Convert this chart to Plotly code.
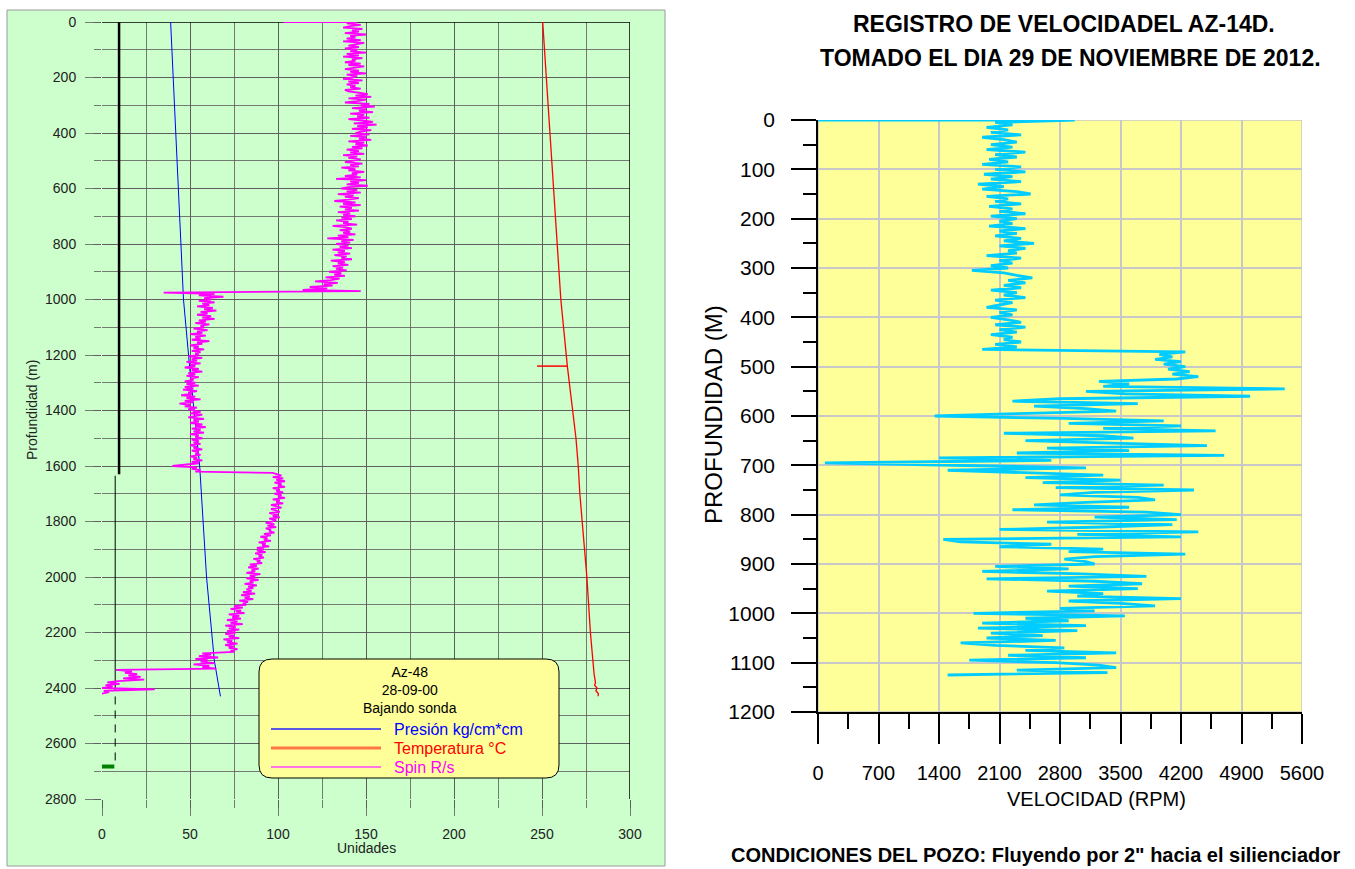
import plotly.graph_objects as go

W, H = 1355, 869

# ---------------- LEFT CHART DATA (Az-48, 28-09-00) ----------------
spin_head_val = [103]
spin_head_depth = [0]
spin_step = 5
spin_segments = [
    (0, [145, 139, 147, 141, 137, 148, 142, 146, 138, 150,
         141, 144, 139, 147, 137, 149, 143, 140, 146, 138,
         145, 141, 150, 139, 146, 137, 148, 142, 144, 138,
         147, 140, 149, 143, 138, 146, 141, 150, 139, 145,
         142, 137, 148, 140, 146, 139, 144, 141, 147, 138]),
    (250, [140, 146, 151, 144, 153, 140, 150, 145, 138, 152,
           147, 155, 142, 150, 146, 154, 141, 149, 145, 152,
           140, 148, 154, 143, 156, 145, 151, 142, 153, 147,
           144, 152, 141, 150, 146, 153, 140, 149, 144, 151]),
    (450, [142, 148, 139, 146, 141, 149, 137, 145, 140, 147,
           143, 138, 148, 141, 146, 136, 144, 140, 149, 142,
           145, 138, 147, 133, 150, 141, 146, 139, 151, 140]),
    (600, [136, 145, 139, 147, 134, 143, 138, 146, 140, 132,
           144, 137, 147, 135, 142, 138, 146, 134, 141, 137]),
    (700, [144, 136, 142, 133, 140, 137, 145, 131, 139, 142,
           135, 141, 137, 144, 134, 140, 128, 143, 136, 141]),
    (800, [133, 140, 135, 142, 131, 138, 134, 141, 132, 139,
           136, 142, 130, 138, 134, 140, 131, 137, 133, 139]),
    (900, [129, 136, 132, 138, 127, 135, 130, 121, 134, 126,
           131, 118, 128, 114, 147, 35, 64, 55, 69, 58]),
    (1000, [62, 55, 64, 57, 61, 54, 63, 58, 65, 56,
            60, 54, 62, 57, 64, 55, 59, 53, 61, 56]),
    (1100, [58, 52, 60, 54, 57, 50, 59, 53, 56, 51,
            61, 54, 57, 50, 55, 52, 58, 51, 56, 53]),
    (1200, [55, 49, 57, 51, 54, 48, 56, 50, 53, 47,
            55, 51, 57, 49, 53, 48, 55, 50, 52, 47]),
    (1300, [53, 48, 55, 47, 52, 46, 54, 49, 51, 45,
            53, 48, 56, 47, 52, 44, 50, 47, 54, 49]),
    (1400, [52, 56, 50, 57, 53, 49, 58, 52, 55, 50,
            57, 53, 59, 51, 56, 52, 58, 50, 55, 53]),
    (1500, [57, 51, 55, 52, 56, 50, 54, 52, 57, 51,
            55, 53, 56, 50, 54, 52, 57, 51, 55, 48,
            40, 54, 51, 56, 53, 97]),
    (1630, [99, 102, 97, 103, 99, 104, 98, 102, 100, 104,
            97, 101, 99, 103, 98, 102, 100, 104, 97, 101,
            99, 103, 96, 100]),
    (1750, [102, 96, 99, 101, 95, 100, 97, 101, 95, 99]),
    (1800, [97, 93, 98, 94, 99, 93, 96, 95, 98, 92]),
    (1850, [96, 90, 94, 92, 96, 89, 93, 91, 95, 88]),
    (1900, [92, 88, 93, 87, 91, 89, 92, 86, 90, 88]),
    (1950, [91, 84, 88, 83, 89, 85, 87, 82, 90, 84]),
    (2000, [87, 82, 89, 84, 86, 81, 88, 83, 86, 82]),
    (2050, [85, 80, 87, 79, 84, 81, 86, 78, 83, 80]),
    (2100, [82, 75, 80, 73, 79, 76, 81, 72, 78, 74]),
    (2150, [79, 71, 77, 73, 80, 70, 76, 72, 78, 71]),
    (2200, [76, 70, 75, 72, 78, 69, 74, 71, 77, 70,
            75, 72, 77, 73, 75]),
    (2275, [57, 62, 55, 66, 53, 60, 56, 64, 52, 61, 57, 65]),
    (2335, [8, 17, 13, 20, 15, 22, 12, 24, 9, 3,
            10, 2, 6, 0, 30, 1, 4, 0]),
]

pres_depth = [0, 500, 940, 960, 1000, 1250, 1600, 2000, 2300, 2430]
pres_val = [39.0, 42.5, 45.8, 45.9, 46.3, 49.9, 55.5, 59.4, 63.8, 67.3]

temp_depth = [0, 500, 1000, 1240, 1500, 1600, 1700, 2000, 2200, 2350, 2380, 2390, 2400, 2410, 2420, 2430]
temp_val = [250.4, 255.5, 260.7, 264.4, 269.3, 270.6, 271.5, 275.5, 277.5, 279.6, 280.4, 279.9, 281.3, 280.6, 282.0, 281.9]
temp_stub_depth = [1240, 1240]
temp_stub_val = [247.2, 264.4]

casing_upper_x = [9.7, 9.7]
casing_upper_depth = [0, 1630]
casing_lower_x = [7.5, 7.5]
casing_lower_depth = [1635, 2380]
casing_dash_x = [7.5, 7.5]
casing_dash_depth = [2380, 2680]
shoe_x = [0, 7]
shoe_depth = [2683, 2683]

left_xticks = [0, 50, 100, 150, 200, 250, 300]
left_yticks = [0, 200, 400, 600, 800, 1000, 1200, 1400, 1600, 1800, 2000, 2200, 2400, 2600, 2800]

# ---------------- RIGHT CHART DATA (AZ-14D) ----------------
vel_head_rpm = [0, 2970]
vel_head_depth = [0, 0]
vel_step = 5  # first sample at 5 m
vel_rpm = [
    2050, 2250, 1950, 2200, 2000, 2350, 1900, 2150, 2300, 2000,   # 5-50
    2250, 1950, 2400, 2050, 2300, 1980, 2200, 1900, 2350, 2050,   # 55-100
    2400, 1920, 2250, 2000, 2350, 1850, 2150, 1900, 2300, 2460,   # 105-150
    1950, 2200, 2050, 2350, 1980, 2250, 2100, 2400, 2000, 2300,   # 155-200
    2100, 2250, 1980, 2400, 2100, 2300, 2050, 2350, 2150, 2500,   # 205-250
    2100, 2400, 2200, 2300, 1950, 2350, 2100, 2250, 2000, 2200,   # 255-300
    1780, 2150, 2300, 2480, 2200, 2400, 2150, 2350, 2000, 2300,   # 305-350
    2150, 2400, 2050, 2250, 2100, 1950, 2300, 2100, 2250, 2000,   # 355-400
    2200, 2350, 2050, 2400, 2100, 2300, 2000, 2250, 2150, 2350,   # 405-450
    2050, 2300, 1900, 4250, 3950, 4100, 3900, 4200, 4000, 4250,   # 455-500
    4050, 4300, 4100, 4400, 4150, 3250, 3600, 3300, 5400, 3100,   # 505-550
    3550, 5000, 2800, 2250, 3700, 2500, 3100, 3450, 2300, 1350,   # 555-600
    2850, 4000, 2900, 4200, 3300, 4600, 2150, 3300, 3650, 2400,   # 605-650
    3400, 4500, 2650, 3600, 2300, 4700, 1400, 2700, 80, 1450,     # 655-700
    3100, 1500, 2500, 3300, 2400, 3500, 2600, 4000, 2750, 4350,   # 705-750
    3200, 2800, 3700, 3900, 3100, 2500, 3600, 2250, 3800, 4200,   # 755-800
    3200, 4150, 2650, 4100, 3300, 2100, 4400, 3000, 4200, 1450,   # 805-850
    1650, 2700, 2100, 3300, 2900, 4250, 3200, 2850, 3100, 3200,   # 855-900
    2050, 2900, 1900, 3050, 3800, 1950, 3200, 3750, 2900, 3700,   # 905-950
    2650, 3300, 3000, 4200, 2900, 3500, 3900, 2800, 3200, 1800,   # 955-1000
    3550, 2400, 2900, 1900, 3100, 1850, 3000, 2000, 2600, 1950,   # 1005-1050
    2750, 1650, 2050, 2850, 2400, 3450, 2200, 3100, 1750, 2750,   # 1055-1100
    3250, 3450, 2300, 3350, 1500,                                 # 1105-1125
]

right_xticks = [0, 700, 1400, 2100, 2800, 3500, 4200, 4900, 5600]

# ---------------- helpers ----------------
def px(x):
    return x / W


def py(y):
    return 1 - y / H


spin_depth = list(spin_head_depth)
spin_all = list(spin_head_val)
for start, vals in spin_segments:
    for i, v in enumerate(vals):
        spin_depth.append(start + i * spin_step)
        spin_all.append(v)
vel_depth = vel_head_depth + [(i + 1) * vel_step for i in range(len(vel_rpm))]
vel_all = vel_head_rpm + vel_rpm

fig = go.Figure()

# left traces
fig.add_trace(go.Scatter(x=casing_upper_x, y=casing_upper_depth, mode="lines",
                         line=dict(color="black", width=2.5), xaxis="x", yaxis="y"))
fig.add_trace(go.Scatter(x=casing_lower_x, y=casing_lower_depth, mode="lines",
                         line=dict(color="black", width=1), xaxis="x", yaxis="y"))
fig.add_trace(go.Scatter(x=casing_dash_x, y=casing_dash_depth, mode="lines",
                         line=dict(color="black", width=1, dash="8px,6px"), xaxis="x", yaxis="y"))
fig.add_trace(go.Scatter(x=shoe_x, y=shoe_depth, mode="lines",
                         line=dict(color="#008000", width=4), xaxis="x", yaxis="y"))
fig.add_trace(go.Scatter(x=pres_val, y=pres_depth, mode="lines",
                         line=dict(color="#0000FF", width=1), xaxis="x", yaxis="y"))
fig.add_trace(go.Scatter(x=temp_val, y=temp_depth, mode="lines",
                         line=dict(color="#FF0000", width=1.3), xaxis="x", yaxis="y"))
fig.add_trace(go.Scatter(x=temp_stub_val, y=temp_stub_depth, mode="lines",
                         line=dict(color="#FF0000", width=1.5), xaxis="x", yaxis="y"))
fig.add_trace(go.Scatter(x=spin_all, y=spin_depth, mode="lines",
                         line=dict(color="#FF00FF", width=1.8), xaxis="x", yaxis="y"))

# right trace
fig.add_trace(go.Scatter(x=vel_all, y=vel_depth, mode="lines",
                         line=dict(color="#00CCFF", width=2.8), xaxis="x2", yaxis="y2"))

GRID_L = "rgba(90,90,90,0.8)"
FONT = "Liberation Sans, Arial, sans-serif"

shapes = []
# left green background
shapes.append(dict(type="rect", xref="paper", yref="paper",
                   x0=px(7), x1=px(665), y0=py(866), y1=py(10),
                   fillcolor="#CCFFCC", line=dict(color="#9a9a9a", width=1), layer="below"))
# right yellow plot area
shapes.append(dict(type="rect", xref="x2", yref="y2", x0=0, x1=5600, y0=0, y1=1200,
                   fillcolor="#FFFF99", line=dict(color="#c8c8c8", width=1.5), layer="below"))
# left frame top & right (black)
shapes.append(dict(type="line", xref="x", yref="y", x0=0, x1=300, y0=0, y1=0,
                   line=dict(color="black", width=1.5), layer="between"))
shapes.append(dict(type="line", xref="x", yref="y", x0=300, x1=300, y0=0, y1=2800,
                   line=dict(color="black", width=1.5), layer="between"))

# legend box (rounded)
bx0, bx1, by0, by1, r = 259, 559, 659, 778, 13
rx, ry = r / W, r / H
X0, X1, Y0, Y1 = px(bx0), px(bx1), py(by0), py(by1)
path = (f"M {X0+rx},{Y0} L {X1-rx},{Y0} Q {X1},{Y0} {X1},{Y0-ry} "
        f"L {X1},{Y1+ry} Q {X1},{Y1} {X1-rx},{Y1} "
        f"L {X0+rx},{Y1} Q {X0},{Y1} {X0},{Y1+ry} "
        f"L {X0},{Y0-ry} Q {X0},{Y0} {X0+rx},{Y0} Z")
shapes.append(dict(type="path", xref="paper", yref="paper", path=path,
                   fillcolor="#FFFF99", line=dict(color="black", width=1), layer="above"))
legend_items = [("Presión kg/cm*cm", "#0000FF", "#2222FF", 729, 1.5),
                ("Temperatura °C", "#FF0000", "#FF7744", 748, 3),
                ("Spin R/s", "#FF00FF", "#FF44FF", 767, 1.5)]
legend_header = ["Az-48", "28-09-00", "Bajando sonda"]
annotations = []


def note(x, y, text, size, color="black", anchor="center", angle=0, bold=False):
    if bold:
        text = f"<b>{text}</b>"
    return dict(x=px(x), y=py(y), xref="paper", yref="paper", text=text, showarrow=False,
                xanchor=anchor, yanchor="middle", textangle=angle,
                font=dict(family=FONT, size=size, color=color))


for txt, tcol, lcol, yy, lw in legend_items:
    shapes.append(dict(type="line", xref="paper", yref="paper", x0=px(271), x1=px(381),
                       y0=py(yy), y1=py(yy), line=dict(color=lcol, width=lw), layer="above"))
    annotations.append(note(392, yy, txt, 16, tcol, anchor="left"))
annotations.append(note(410, 690, "<br>".join(legend_header), 14))

# left axis titles
annotations.append(note(366, 848, "Unidades", 14, "#222"))
annotations.append(note(32, 410, "Profundidad (m)", 14, "#222", angle=-90))

# right titles
annotations.append(note(1064, 24, "REGISTRO DE VELOCIDADEL AZ-14D.", 23, bold=True))
annotations.append(note(1070, 58, "TOMADO EL DIA 29 DE NOVIEMBRE DE 2012.", 23, bold=True))
annotations.append(note(1035, 855, "CONDICIONES DEL POZO: Fluyendo por 2\" hacia el silienciador", 20, bold=True))
annotations.append(note(1096, 799, "VELOCIDAD (RPM)", 20))
annotations.append(note(713, 415, "PROFUNDIDAD (M)", 24, angle=-90))

fig.update_layout(
    template="none",
    width=W, height=H,
    margin=dict(l=0, r=0, t=0, b=0, pad=0, autoexpand=False),
    paper_bgcolor="white",
    plot_bgcolor="rgba(0,0,0,0)",
    showlegend=False,
    shapes=shapes,
    annotations=annotations,
    xaxis=dict(domain=[px(102), px(630)], range=[0, 300], tickvals=left_xticks, automargin=False,
               showgrid=True, gridcolor=GRID_L, gridwidth=1.2, zeroline=False, showline=False,
               ticks="outside", ticklen=16, tickcolor=GRID_L, tickwidth=1.2,
               ticklabelstandoff=6,
               tickfont=dict(family=FONT, size=14, color="#222"),
               minor=dict(dtick=25, showgrid=True, gridcolor=GRID_L, gridwidth=1.2,
                          ticks="outside", ticklen=8, tickcolor=GRID_L, tickwidth=1.2),
               anchor="y"),
    yaxis=dict(domain=[py(799), py(22)], range=[2800, 0], tickvals=left_yticks, automargin=False,
               showgrid=True, gridcolor=GRID_L, gridwidth=1.2, zeroline=False, showline=False,
               ticks="outside", ticklen=16, tickcolor=GRID_L, tickwidth=1.2,
               ticklabelstandoff=6,
               tickfont=dict(family=FONT, size=14, color="#222"),
               minor=dict(dtick=100, showgrid=True, gridcolor=GRID_L, gridwidth=1.2,
                          ticks="outside", ticklen=7, tickcolor=GRID_L, tickwidth=1.2),
               anchor="x"),
    xaxis2=dict(domain=[px(818), px(1302)], range=[0, 5600], tickvals=right_xticks, automargin=False,
                showgrid=True, gridcolor="#c8c8c8", gridwidth=1.5, zeroline=False,
                showline=True, linecolor="black", linewidth=1.5,
                ticks="outside", ticklen=30, tickcolor="black", tickwidth=1.5,
                ticklabelstandoff=12,
                tickfont=dict(family=FONT, size=20, color="black"),
                minor=dict(dtick=350, ticks="outside", ticklen=15, tickcolor="black",
                           tickwidth=1.5, showgrid=False),
                anchor="y2"),
    yaxis2=dict(domain=[py(712), py(120)], range=[1200, 0], dtick=100, automargin=False,
                showgrid=True, gridcolor="#c8c8c8", gridwidth=1.5, zeroline=False,
                showline=True, linecolor="black", linewidth=1.5,
                ticks="outside", ticklen=25, tickcolor="black", tickwidth=1.5,
                ticklabelstandoff=12,
                tickfont=dict(family=FONT, size=21, color="black"),
                minor=dict(dtick=50, ticks="outside", ticklen=13, tickcolor="black",
                           tickwidth=1.5, showgrid=False),
                anchor="x2"),
)

fig.write_html("out.html", config={"displayModeBar": False},
               post_script="document.body.style.margin='0px';document.body.style.overflow='hidden';")
